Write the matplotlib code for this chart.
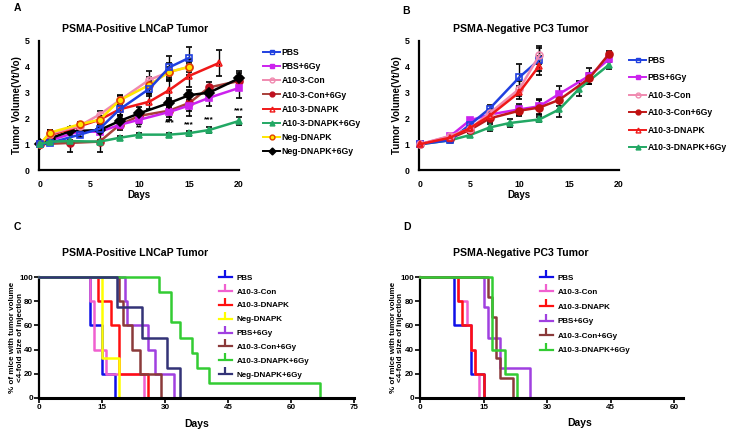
import matplotlib
matplotlib.use("Agg")
import matplotlib.pyplot as plt
from matplotlib.lines import Line2D

plt.rcParams['font.family'] = ['Liberation Sans', 'DejaVu Sans']
plt.rcParams['font.weight'] = 'bold'

# ---- panel A: tumour growth, LNCaP ----
a_names = ['PBS', 'PBS+6Gy', 'A10-3-Con', 'A10-3-Con+6Gy', 'A10-3-DNAPK',
           'A10-3-DNAPK+6Gy', 'Neg-DNAPK', 'Neg-DNAPK+6Gy']
a_days = {
    'PBS': [0, 1, 4, 6, 8, 11, 13, 15],
    'PBS+6Gy': [0, 1, 4, 6, 8, 10, 13, 15, 17, 20],
    'A10-3-Con': [0, 1, 4, 6, 8, 11, 13, 15],
    'A10-3-Con+6Gy': [0, 3, 6, 8, 10, 13, 15, 17, 20],
    'A10-3-DNAPK': [0, 1, 4, 6, 8, 11, 13, 15, 18],
    'A10-3-DNAPK+6Gy': [0, 1, 3, 6, 8, 10, 13, 15, 17, 20],
    'Neg-DNAPK': [0, 1, 4, 6, 8, 11, 13, 15],
    'Neg-DNAPK+6Gy': [0, 1, 3, 6, 8, 10, 13, 15, 17, 20],
}
a_vals = {
    'PBS': [1, 1.05, 1.37, 1.6, 2.35, 3.15, 3.98, 4.35],
    'PBS+6Gy': [1, 1.15, 1.5, 1.48, 1.75, 1.95, 2.25, 2.5, 2.8, 3.18],
    'A10-3-Con': [1, 1.4, 1.72, 2.15, 2.7, 3.5, 3.8, 4.0],
    'A10-3-Con+6Gy': [1, 1.05, 1.1, 1.75, 2.1, 2.3, 2.6, 3.2, 3.45],
    'A10-3-DNAPK': [1, 1.35, 1.7, 1.95, 2.35, 2.65, 3.1, 3.65, 4.15],
    'A10-3-DNAPK+6Gy': [1, 1.1, 1.12, 1.1, 1.25, 1.37, 1.37, 1.43, 1.55, 1.9],
    'Neg-DNAPK': [1, 1.45, 1.77, 1.95, 2.7, 3.3, 3.8, 4.0],
    'Neg-DNAPK+6Gy': [1, 1.22, 1.5, 1.55, 1.9, 2.2, 2.6, 2.9, 3.0, 3.55],
}
a_errs = {
    'PBS': [0, 0.05, 0.08, 0.12, 0.2, 0.3, 0.45, 0.4],
    'PBS+6Gy': [0, 0.05, 0.1, 0.1, 0.12, 0.15, 0.2, 0.4, 0.3, 0.4],
    'A10-3-Con': [0, 0.15, 0.1, 0.15, 0.15, 0.35, 0.2, 0.2],
    'A10-3-Con+6Gy': [0, 0.35, 0.4, 0.2, 0.2, 0.35, 0.3, 0.2, 0.3],
    'A10-3-DNAPK': [0, 0.1, 0.1, 0.15, 0.2, 0.3, 0.4, 0.45, 0.5],
    'A10-3-DNAPK+6Gy': [0, 0.05, 0.05, 0.05, 0.08, 0.08, 0.08, 0.1, 0.1, 0.15],
    'Neg-DNAPK': [0, 0.1, 0.1, 0.15, 0.2, 0.3, 0.35, 0.3],
    'Neg-DNAPK+6Gy': [0, 0.1, 0.15, 0.1, 0.2, 0.25, 0.2, 0.2, 0.25, 0.3],
}
star_days = [10, 13, 15, 17, 20]
star_text = ['**', '***', '***', '***', '***']
star_y = [1.62, 1.85, 1.74, 1.94, 2.29]

# ---- panel B: tumour growth, PC3 ----
b_names = ['PBS', 'PBS+6Gy', 'A10-3-Con', 'A10-3-Con+6Gy', 'A10-3-DNAPK',
           'A10-3-DNAPK+6Gy']
b_days = {
    'PBS': [0, 3, 5, 7, 10, 12],
    'PBS+6Gy': [0, 3, 5, 7, 10, 12, 14, 17, 19],
    'A10-3-Con': [0, 3, 5, 7, 10, 12],
    'A10-3-Con+6Gy': [0, 3, 5, 7, 10, 12, 14, 17, 19],
    'A10-3-DNAPK': [0, 3, 5, 7, 10, 12],
    'A10-3-DNAPK+6Gy': [0, 3, 5, 7, 9, 12, 14, 16, 19],
}
b_vals = {
    'PBS': [1, 1.15, 1.75, 2.38, 3.6, 4.28],
    'PBS+6Gy': [1, 1.3, 1.92, 2.15, 2.35, 2.47, 2.95, 3.65, 4.3],
    'A10-3-Con': [1, 1.32, 1.6, 2.2, 3.15, 4.45],
    'A10-3-Con+6Gy': [1, 1.22, 1.55, 2.0, 2.3, 2.42, 2.72, 3.55, 4.5],
    'A10-3-DNAPK': [1, 1.25, 1.62, 2.1, 3.02, 4.05],
    'A10-3-DNAPK+6Gy': [1, 1.15, 1.35, 1.65, 1.82, 1.96, 2.35, 3.15, 4.08],
}
b_errs = {
    'PBS': [0, 0.05, 0.1, 0.15, 0.5, 0.45],
    'PBS+6Gy': [0, 0.05, 0.1, 0.15, 0.2, 0.3, 0.3, 0.3, 0.1],
    'A10-3-Con': [0, 0.05, 0.1, 0.15, 0.3, 0.35],
    'A10-3-Con+6Gy': [0, 0.05, 0.1, 0.15, 0.2, 0.3, 0.25, 0.2, 0.1],
    'A10-3-DNAPK': [0, 0.05, 0.1, 0.15, 0.25, 0.35],
    'A10-3-DNAPK+6Gy': [0, 0.05, 0.08, 0.15, 0.15, 0.1, 0.3, 0.3, 0.15],
}

# ---- panel C: Kaplan-Meier, LNCaP ----
c_names = ['PBS', 'A10-3-Con', 'A10-3-DNAPK', 'Neg-DNAPK', 'PBS+6Gy',
           'A10-3-Con+6Gy', 'A10-3-DNAPK+6Gy', 'Neg-DNAPK+6Gy']
c_time = {
    'PBS': [0, 12, 15, 18],
    'A10-3-Con': [0, 12, 13, 16, 25],
    'A10-3-DNAPK': [0, 14, 17, 19, 26],
    'Neg-DNAPK': [0, 15, 19],
    'PBS+6Gy': [0, 20.5, 21, 26, 27.5, 32],
    'A10-3-Con+6Gy': [0, 19, 20, 22, 24, 29],
    'A10-3-DNAPK+6Gy': [0, 28.5, 31.5, 33.5, 36.5, 37.5, 40.5, 67],
    'Neg-DNAPK+6Gy': [0, 18.5, 24.5, 30.5, 33.5],
}
c_surv = {
    'PBS': [100, 60, 20, 0],
    'A10-3-Con': [100, 80, 40, 20, 0],
    'A10-3-DNAPK': [100, 80, 60, 20, 0],
    'Neg-DNAPK': [100, 33.3, 0],
    'PBS+6Gy': [100, 80, 60, 40, 20, 0],
    'A10-3-Con+6Gy': [100, 80, 60, 40, 20, 0],
    'A10-3-DNAPK+6Gy': [100, 87.5, 62.5, 50, 37.5, 25, 12.5, 0],
    'Neg-DNAPK+6Gy': [100, 75, 50, 25, 0],
}

# ---- panel D: Kaplan-Meier, PC3 ----
d_names = ['PBS', 'A10-3-Con', 'A10-3-DNAPK', 'PBS+6Gy', 'A10-3-Con+6Gy',
           'A10-3-DNAPK+6Gy']
d_time = {
    'PBS': [0, 8, 12, 15],
    'A10-3-Con': [0, 9, 11, 12, 13, 14],
    'A10-3-DNAPK': [0, 9, 10, 12, 13, 15],
    'PBS+6Gy': [0, 15, 16, 19, 26],
    'A10-3-Con+6Gy': [0, 16, 17, 18, 19, 22],
    'A10-3-DNAPK+6Gy': [0, 17, 20, 23],
}
d_surv = {
    'PBS': [100, 60, 20, 0],
    'A10-3-Con': [100, 80, 60, 40, 20, 0],
    'A10-3-DNAPK': [100, 80, 60, 40, 20, 0],
    'PBS+6Gy': [100, 75, 50, 25, 0],
    'A10-3-Con+6Gy': [100, 83.3, 66.7, 33.3, 16.7, 0],
    'A10-3-DNAPK+6Gy': [100, 40, 20, 0],
}

# styles: line colour, marker, marker face, marker edge
growth_style = {
    'PBS': ('#2040E0', 's', 'none', '#2040E0'),
    'PBS+6Gy': ('#CC22EE', 's', '#CC22EE', '#CC22EE'),
    'A10-3-Con': ('#F08AB0', 'o', 'none', '#F08AB0'),
    'A10-3-Con+6Gy': ('#A8403A', 'o', '#C01020', '#C01020'),
    'A10-3-DNAPK': ('#F01818', '^', 'none', '#F01818'),
    'A10-3-DNAPK+6Gy': ('#22A864', '^', '#22A864', '#22A864'),
    'Neg-DNAPK': ('#FFE600', 'o', '#FFE600', '#E04000'),
    'Neg-DNAPK+6Gy': ('#000000', 'D', '#000000', '#000000'),
}
b_style = dict(growth_style)
b_style['A10-3-Con+6Gy'] = ('#C01818', 'o', '#C01010', '#C01010')
km_color = {
    'PBS': '#1010E8', 'A10-3-Con': '#F060D0', 'A10-3-DNAPK': '#FF1010',
    'Neg-DNAPK': '#FFFF00', 'PBS+6Gy': '#A040E0', 'A10-3-Con+6Gy': '#8B3A3A',
    'A10-3-DNAPK+6Gy': '#33CC33', 'Neg-DNAPK+6Gy': '#333377',
}

W, H = 729, 433
fig = plt.figure(figsize=(W / 100, H / 100), dpi=100)


def px_axes(l, r, t, b):
    return fig.add_axes([l / W, 1 - b / H, (r - l) / W, (b - t) / H])


def growth_panel(ax, names, days, vals, errs, style, order):
    for n in order:
        c, m, fc, ec = style[n]
        ax.errorbar(days[n], vals[n], yerr=errs[n], color=c, lw=1.8,
                    marker=m, ms=5, mfc=fc, mec=ec, mew=1.2,
                    ecolor='black', elinewidth=1.0, capsize=2.5, capthick=1.0,
                    zorder=3, clip_on=False)
    ax.set_xlim(-0.1, 20)
    ax.set_ylim(0, 5)
    ax.set_xticks([0, 5, 10, 15, 20])
    ax.set_yticks([0, 1, 2, 3, 4, 5])
    for s in ['top', 'right']:
        ax.spines[s].set_visible(False)
    for s in ['left', 'bottom']:
        ax.spines[s].set_linewidth(1.6)
    ax.tick_params(length=0, labelsize=6.3, pad=7)
    ax.set_xlabel('Days', fontsize=7, fontweight='bold', labelpad=1)
    ax.set_ylabel('Tumor Volume(Vt/Vo)', fontsize=7, fontweight='bold')
    ax.yaxis.set_label_coords(-0.085, 0.5)
    handles = []
    for n in names:
        c, m, fc, ec = style[n]
        handles.append(Line2D([], [], color=c, lw=1.4, marker=m, ms=3.5,
                              mfc=fc, mec=ec))
    return handles


# panel A
axA = px_axes(39, 239, 41, 170)
hA = growth_panel(axA, a_names, a_days, a_vals, a_errs, growth_style,
                  ['A10-3-Con+6Gy', 'PBS+6Gy', 'Neg-DNAPK+6Gy', 'A10-3-DNAPK',
                   'A10-3-Con', 'Neg-DNAPK', 'PBS', 'A10-3-DNAPK+6Gy'])
for d, t, y in zip(star_days, star_text, star_y):
    axA.text(d, y, t, ha='center', va='center', fontsize=6)
fig.legend(hA, a_names, loc='upper left', bbox_to_anchor=(263 / W, 1 - 48 / H),
           frameon=False, fontsize=6.2, handlelength=2.0, handletextpad=0.15,
           labelspacing=0.6, borderaxespad=0, borderpad=0)

# panel B
axB = px_axes(419, 619, 41, 170)
hB = growth_panel(axB, b_names, b_days, b_vals, b_errs, b_style,
                  ['A10-3-DNAPK+6Gy', 'PBS+6Gy', 'A10-3-Con+6Gy', 'PBS',
                   'A10-3-Con', 'A10-3-DNAPK'])
fig.legend(hB, b_names, loc='upper left', bbox_to_anchor=(629 / W, 1 - 56 / H),
           frameon=False, fontsize=6.2, handlelength=2.0, handletextpad=0.15,
           labelspacing=0.98, borderaxespad=0, borderpad=0)


def km_panel(ax, names, time, surv, xmax, xticks):
    for n in names:
        ax.step(time[n], surv[n], where='post', color=km_color[n], lw=1.8,
                clip_on=False, zorder=3)
    ax.set_xlim(0, xmax)
    ax.set_ylim(0, 100)
    ax.set_xticks(xticks)
    ax.set_yticks([0, 20, 40, 60, 80, 100])
    for s in ['top', 'right']:
        ax.spines[s].set_visible(False)
    ax.spines['left'].set_linewidth(1.6)
    ax.spines['bottom'].set_linewidth(2.2)
    ax.spines['bottom'].set_zorder(4)
    ax.tick_params(length=3.5, width=1.2, labelsize=5.8, pad=1)
    ax.set_xlabel('Days', fontsize=7.5, fontweight='bold', labelpad=6)
    ax.set_ylabel('% of mice with tumor volume\n<4-fold size of injection',
                  fontsize=5.8, fontweight='bold', linespacing=1.05)
    ax.yaxis.set_label_coords(-0.05, 0.5)
    return [Line2D([], [], color=km_color[n], lw=1.6, marker=2, ms=5, mew=1.6)
            for n in names]


# panel C
axC = px_axes(39.3, 354, 277.3, 397.7)
hC = km_panel(axC, c_names, c_time, c_surv, 75, [0, 15, 30, 45, 60, 75])
fig.legend(hC, c_names, loc='upper left', bbox_to_anchor=(219 / W, 1 - 274 / H),
           frameon=False, fontsize=5.8, handlelength=1.6, handletextpad=0.6,
           labelspacing=0.78, numpoints=1, borderaxespad=0, borderpad=0)

# panel D
axD = px_axes(420, 683, 277.3, 397.7)
hD = km_panel(axD, d_names, d_time, d_surv, 62.1, [0, 15, 30, 45, 60])
axD.yaxis.set_label_coords(-0.06, 0.5)
axD.xaxis.set_label_coords((580 - 420) / 263, -0.17)
fig.legend(hD, d_names, loc='upper left', bbox_to_anchor=(540 / W, 1 - 274 / H),
           frameon=False, fontsize=5.8, handlelength=1.6, handletextpad=0.6,
           labelspacing=0.86, numpoints=1, borderaxespad=0, borderpad=0)

# titles and panel letters
for x, y, t in [(135, 29, 'PSMA-Positive LNCaP Tumor'),
                (521, 29, 'PSMA-Negative PC3 Tumor'),
                (135, 253, 'PSMA-Positive LNCaP Tumor'),
                (521, 253, 'PSMA-Negative PC3 Tumor')]:
    fig.text(x / W, 1 - y / H, t, ha='center', va='center', fontsize=7.6,
             fontweight='bold')
for x, y, t in [(17, 8, 'A'), (406, 11, 'B'), (17, 227, 'C'), (407, 227, 'D')]:
    fig.text(x / W, 1 - y / H, t, ha='center', va='center', fontsize=7.5,
             fontweight='bold')

fig.savefig('out.png', dpi=100)
